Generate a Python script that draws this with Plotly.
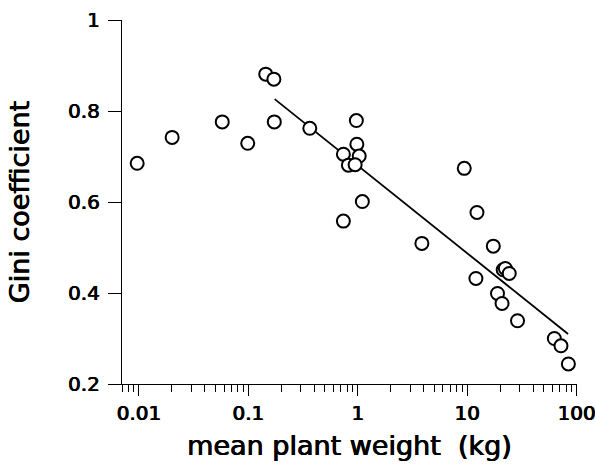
import plotly.graph_objects as go

# data
weight_kg = [0.00963, 0.0201, 0.0577, 0.0986, 0.144, 0.171, 0.1725, 0.364,
             0.97, 0.98, 0.738, 1.03, 0.82, 0.945, 1.10, 0.738,
             9.39, 12.27, 3.85, 17.3, 21.3, 22.3, 24.2, 12.0,
             18.9, 20.8, 28.8, 62.5, 71.9, 84.0]
gini = [0.685, 0.742, 0.776, 0.729, 0.881, 0.870, 0.776, 0.762,
        0.779, 0.727, 0.705, 0.701, 0.681, 0.682, 0.601, 0.558,
        0.674, 0.577, 0.509, 0.503, 0.451, 0.454, 0.443, 0.432,
        0.399, 0.377, 0.339, 0.300, 0.284, 0.244]
fit_x = [0.174, 83.4]
fit_y = [0.826, 0.310]

x_tickvals = [0.01, 0.1, 1, 10, 100]
x_ticktext = ["0.01", "0.1", "1", "10", "100"]
y_tickvals = [0.2, 0.4, 0.6, 0.8, 1.0]
y_ticktext = ["0.2", "0.4", "0.6", "0.8", "1"]
x_minor = [0.007, 0.008, 0.009] + [m * 10.0 ** e for e in (-2, -1, 0, 1) for m in range(2, 10)]

FONT = "DejaVu Sans"
THICK = "0.45px 0 0 black, -0.45px 0 0 black"

fig = go.Figure()
fig.add_trace(go.Scatter(x=fit_x, y=fit_y, mode="lines",
                         line=dict(color="black", width=1.8), hoverinfo="skip"))
fig.add_trace(go.Scatter(x=weight_kg, y=gini, mode="markers",
                         marker=dict(symbol="circle", size=13, color="white",
                                     line=dict(color="black", width=2))))

fig.update_layout(
    width=595, height=471,
    margin=dict(l=122, r=18, t=20, b=87),
    paper_bgcolor="white", plot_bgcolor="white",
    showlegend=False,
    font=dict(family=FONT, color="black"),
)
fig.update_xaxes(
    type="log", range=[-2.155, 2.003], automargin=False,
    showline=True, linecolor="black", linewidth=1.2,
    ticks="outside", ticklen=11, tickwidth=1.2, tickcolor="black",
    tickmode="array", tickvals=x_tickvals, ticktext=x_ticktext,
    tickfont=dict(family=FONT, size=20, shadow=THICK),
    ticklabeloverflow="allow",
    minor=dict(ticks="outside", ticklen=7, tickwidth=1.2, tickcolor="black",
               tickmode="array", tickvals=x_minor, showgrid=False),
    showgrid=False, zeroline=False,
    title=dict(text="mean plant weight  (kg)", font=dict(family=FONT, size=27, shadow=THICK), standoff=12),
)
fig.update_yaxes(
    range=[0.2, 1.0], automargin=False,
    showline=True, linecolor="black", linewidth=1.2,
    ticks="outside", ticklen=13, tickwidth=1.2, tickcolor="black",
    tickmode="array", tickvals=y_tickvals, ticktext=y_ticktext,
    tickfont=dict(family=FONT, size=20, shadow=THICK),
    ticklabelstandoff=4,
    showgrid=False, zeroline=False,
    title=dict(text="Gini coefficient", font=dict(family=FONT, size=27, shadow=THICK), standoff=30),
)

fig.write_html("out.html")
